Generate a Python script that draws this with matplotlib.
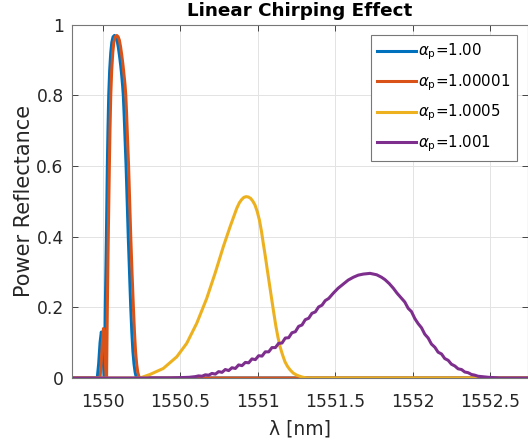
import matplotlib
matplotlib.use("Agg")
import matplotlib.pyplot as plt

plt.rcParams["font.family"] = ["DejaVu Sans"]
plt.rcParams["mathtext.fontset"] = "dejavusans"

# Reflectance spectra of the grating for four chirp factors alpha_p
lam_a = [1549.80, 1549.950, 1549.966, 1549.975, 1549.984, 1549.992, 1549.998, 1550.004,
         1550.010, 1550.013, 1550.018, 1550.025, 1550.031, 1550.035, 1550.040, 1550.046,
         1550.053, 1550.060, 1550.068, 1550.077, 1550.086, 1550.094, 1550.102, 1550.110,
         1550.117, 1550.123, 1550.129, 1550.134, 1550.139, 1550.145, 1550.152, 1550.159,
         1550.166, 1550.174, 1550.182, 1550.189, 1550.196, 1550.203, 1550.210, 1550.216,
         1550.222, 1550.26, 1552.75]
R_a = [0, 0, 0.0, 0.04, 0.10, 0.13, 0.12, 0.06,
       0.0, 0.0, 0.2, 0.4, 0.6, 0.7, 0.8, 0.87,
       0.92, 0.95, 0.965, 0.969, 0.965, 0.955, 0.935, 0.91,
       0.885, 0.86, 0.83, 0.8, 0.75, 0.68, 0.6, 0.5,
       0.4, 0.3, 0.2, 0.13, 0.075, 0.04, 0.017, 0.005,
       0.0, 0, 0]

lam_b = [1549.80, 1549.970, 1549.984, 1549.991, 1549.999, 1550.006, 1550.011, 1550.017,
         1550.023, 1550.026, 1550.031, 1550.037, 1550.044, 1550.048, 1550.053, 1550.059,
         1550.066, 1550.073, 1550.082, 1550.092, 1550.101, 1550.109, 1550.117, 1550.125,
         1550.132, 1550.138, 1550.145, 1550.150, 1550.155, 1550.161, 1550.168, 1550.175,
         1550.182, 1550.190, 1550.199, 1550.206, 1550.213, 1550.220, 1550.227, 1550.234,
         1550.241, 1550.28, 1552.75]
R_b = [0, 0, 0.0, 0.04, 0.10, 0.14, 0.13, 0.06,
       0.0, 0.0, 0.2, 0.4, 0.6, 0.7, 0.8, 0.87,
       0.92, 0.95, 0.965, 0.969, 0.965, 0.955, 0.935, 0.91,
       0.885, 0.86, 0.83, 0.8, 0.75, 0.68, 0.6, 0.5,
       0.4, 0.3, 0.2, 0.13, 0.075, 0.04, 0.017, 0.005,
       0.0, 0, 0]

lam_c = [1549.80, 1550.20, 1550.242, 1550.306, 1550.392, 1550.479, 1550.543, 1550.608,
         1550.672, 1550.726, 1550.779, 1550.823, 1550.866, 1550.883, 1550.898, 1550.912,
         1550.926, 1550.941, 1550.956, 1550.970, 1550.984, 1550.998, 1551.012, 1551.025,
         1551.037, 1551.050, 1551.063, 1551.078, 1551.092, 1551.106, 1551.119, 1551.132,
         1551.145, 1551.161, 1551.177, 1551.193, 1551.210, 1551.230, 1551.253, 1551.285,
         1551.317, 1551.40, 1552.75]
R_c = [0, 0, 0.0, 0.01, 0.027, 0.06, 0.098, 0.155,
       0.225, 0.296, 0.371, 0.428, 0.48, 0.496, 0.505, 0.511,
       0.513, 0.512, 0.508, 0.500, 0.489, 0.471, 0.447, 0.416,
       0.381, 0.345, 0.306, 0.262, 0.221, 0.181, 0.145, 0.115,
       0.089, 0.066, 0.046, 0.033, 0.023, 0.014, 0.008, 0.003,
       0.0, 0, 0]

lam_d = [1549.80, 1550.435, 1550.50, 1550.560, 1550.600,
         1550.620, 1550.642, 1550.663, 1550.685, 1550.706, 1550.728, 1550.749, 1550.771,
         1550.792, 1550.814, 1550.835, 1550.857, 1550.878, 1550.900, 1550.921, 1550.943,
         1550.964, 1550.986, 1551.007, 1551.029, 1551.050, 1551.072, 1551.093, 1551.115,
         1551.136, 1551.158, 1551.179, 1551.201, 1551.222, 1551.244, 1551.265, 1551.287,
         1551.308, 1551.330, 1551.351, 1551.373, 1551.394, 1551.416, 1551.437, 1551.459,
         1551.489, 1551.520, 1551.554, 1551.585, 1551.618, 1551.650, 1551.683, 1551.726,
         1551.769, 1551.800, 1551.823, 1551.850, 1551.876, 1551.900, 1551.930,
         1551.950, 1551.972, 1551.993, 1552.015, 1552.036, 1552.058, 1552.079, 1552.101,
         1552.122, 1552.144, 1552.165, 1552.187, 1552.208, 1552.230, 1552.251, 1552.273,
         1552.294, 1552.316, 1552.337, 1552.359, 1552.380, 1552.402, 1552.423, 1552.445,
         1552.489, 1552.565, 1552.75]
R_d = [0, 0, 0.001, 0.002, 0.004,
       0.006, 0.005, 0.009, 0.008, 0.013, 0.011, 0.018, 0.016,
       0.024, 0.021, 0.029, 0.027, 0.037, 0.035, 0.044, 0.043,
       0.054, 0.052, 0.063, 0.062, 0.074, 0.074, 0.086, 0.086,
       0.098, 0.099, 0.113, 0.114, 0.128, 0.131, 0.146, 0.150,
       0.165, 0.169, 0.183, 0.187, 0.201, 0.206, 0.219, 0.225,
       0.240, 0.254, 0.266, 0.277, 0.285, 0.291, 0.294, 0.296,
       0.292, 0.285, 0.278, 0.267, 0.254, 0.240, 0.225,
       0.215, 0.197, 0.188, 0.168, 0.154, 0.142, 0.124, 0.113,
       0.096, 0.087, 0.073, 0.068, 0.055, 0.050, 0.039, 0.034,
       0.026, 0.024, 0.017, 0.015, 0.010, 0.008, 0.005, 0.004,
       0.002, 0, 0]

labels = [r"$\alpha_\mathrm{p}$=1.00", r"$\alpha_\mathrm{p}$=1.00001",
          r"$\alpha_\mathrm{p}$=1.0005", r"$\alpha_\mathrm{p}$=1.001"]
colors = ["#0072BD", "#D95319", "#EDB120", "#7E2F8E"]

xticks = [1550, 1550.5, 1551, 1551.5, 1552, 1552.5]
xtick_labels = ["1550", "1550.5", "1551", "1551.5", "1552", "1552.5"]
yticks = [0, 0.2, 0.4, 0.6, 0.8, 1]
ytick_labels = ["0", "0.2", "0.4", "0.6", "0.8", "1"]

W, H = 528, 446
fig = plt.figure(figsize=(W / 100, H / 100), dpi=100)
ax = fig.add_axes([72 / W, 1 - 378 / H, (W - 72) / W, (378 - 24.5) / H])

for lam, R, c, lab in zip([lam_a, lam_b, lam_c, lam_d], [R_a, R_b, R_c, R_d], colors, labels):
    ax.plot(lam, R, color=c, lw=2.2, label=lab, solid_joinstyle="round")

ax.set_xlim(1549.803, 1552.745)
ax.set_ylim(0, 1)
ax.set_xticks(xticks)
ax.set_xticklabels(xtick_labels)
ax.set_yticks(yticks)
ax.set_yticklabels(ytick_labels)
ax.grid(True, color="#e3e3e3", lw=0.7)
ax.set_axisbelow(True)
for s in ax.spines.values():
    s.set_color("#777777")
    s.set_linewidth(0.8)
ax.tick_params(direction="in", top=True, right=True, length=4, width=0.7,
               color="#444444", labelsize=12.3, labelcolor="#262626")
ax.tick_params(axis="x", pad=11)
ax.tick_params(axis="y", pad=6)

ax.set_title("Linear Chirping Effect", fontsize=13.2, fontweight="bold", pad=6)
ax.set_xlabel("λ [nm]", fontsize=13.5, color="#262626", labelpad=6)
ax.set_ylabel("Power Reflectance", fontsize=15, color="#262626", labelpad=2)

leg = ax.legend(loc="upper right", bbox_to_anchor=(0.976, 0.970), borderaxespad=0,
                fontsize=10.8, fancybox=False, framealpha=1, edgecolor="#777777",
                handlelength=2.6, handletextpad=0.12, labelspacing=0.66, borderpad=0.45)
leg.get_frame().set_linewidth(0.8)

fig.savefig("out.png", dpi=100)
